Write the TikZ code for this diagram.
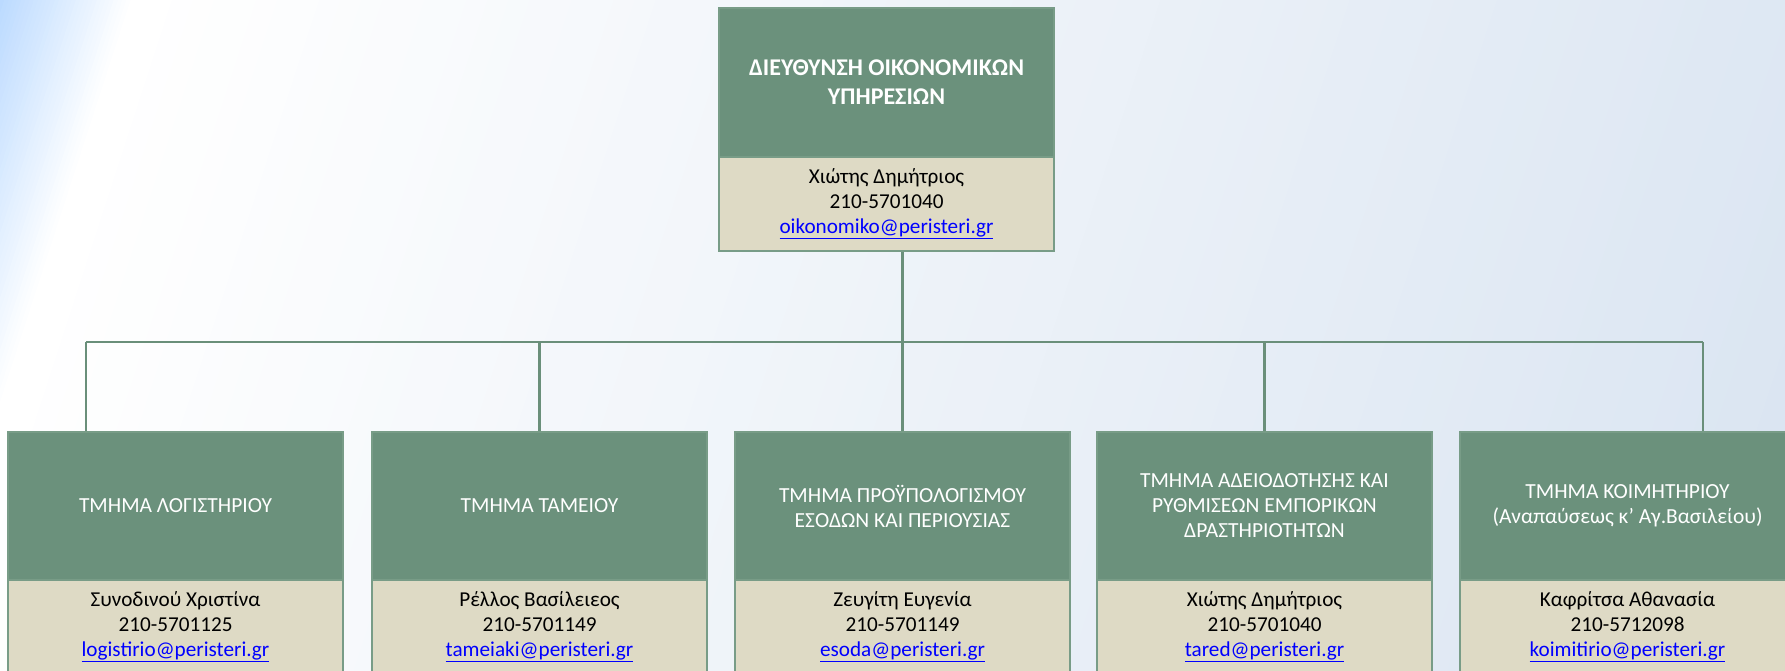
\documentclass[tikz,border=0pt]{standalone}
\usepackage{fontspec}
\setmainfont{Carlito}
\definecolor{boxgreen}{HTML}{6B917C}
\definecolor{boxborder}{HTML}{789C87}
\definecolor{infotan}{HTML}{DEDAC5}
\definecolor{linegreen}{HTML}{6A8F7A}
\definecolor{bgblue}{HTML}{BBDAFF}
\definecolor{bggray}{HTML}{D9E4F1}
\definecolor{linkblue}{HTML}{0000FF}
\newcommand{\mail}[1]{{\color{linkblue}\underline{#1}}}
\tikzset{
  head/.style={draw=boxborder, line width=2.2pt, fill=boxgreen, minimum width=335pt,
    minimum height=148pt, text=white, align=center, inner sep=0pt,
    font=\fontsize{21.5}{25}\selectfont},
  tophead/.style={head, minimum height=149pt, font=\fontsize{24}{29}\selectfont\bfseries},
  info/.style={draw=boxborder, line width=2.2pt, fill=infotan, minimum width=335pt,
    minimum height=94pt, text=black, align=center, inner sep=0pt,
    font=\fontsize{21.2}{25}\selectfont},
  conn/.style={draw=linegreen, line width=2.5pt}
}
\begin{document}
\begin{tikzpicture}[x=1pt,y=-1pt]
\useasboundingbox (0,0) rectangle (1785,670);
\clip (0,0) rectangle (1785,670);
% background
\fill[bggray] (0,0) rectangle (1785,670);
\foreach \i in {0,...,30}{
  \pgfmathsetmacro{\sa}{\i*4}
  \pgfmathsetmacro{\sb}{\i*4+5}
  \pgfmathtruncatemacro{\p}{100-\i*100/31}
  \fill[bgblue!\p!white] ({(\sa+15.45)/0.951},-50) -- ({(\sa-247.2)/0.951},800) -- ({(\sb-247.2)/0.951},800) -- ({(\sb+15.45)/0.951},-50) -- cycle;
}
\foreach \i in {0,...,89}{
  \pgfmathsetmacro{\sa}{124+\i*20}
  \pgfmathsetmacro{\sb}{124+\i*20+21}
  \pgfmathtruncatemacro{\p}{\i*100/89}
  \fill[bggray!\p!white] ({(\sa+15.45)/0.951},-50) -- ({(\sa-247.2)/0.951},800) -- ({(\sb-247.2)/0.951},800) -- ({(\sb+15.45)/0.951},-50) -- cycle;
}
% top box
\node[tophead] (top) at (886.5,82.5) {ΔΙΕΥΘΥΝΣΗ ΟΙΚΟΝΟΜΙΚΩΝ\\ΥΠΗΡΕΣΙΩΝ};
\node[info] (topinfo) at (886.5,204) {Χιώτης Δημήτριος\\210-5701040\\\mail{oikonomiko@peristeri.gr}};
% departments
\node[head] (d1) at (175.5,506) {ΤΜΗΜΑ ΛΟΓΙΣΤΗΡΙΟΥ};
\node[info] (i1) at (175.5,627) {Συνοδινού Χριστίνα\\210-5701125\\\mail{logistirio@peristeri.gr}};
\node[head] (d2) at (539.5,506) {ΤΜΗΜΑ ΤΑΜΕΙΟΥ};
\node[info] (i2) at (539.5,627) {Ρέλλος Βασίλειεος\\210-5701149\\\mail{tameiaki@peristeri.gr}};
\node[head] (d3) at (902.5,506) {ΤΜΗΜΑ ΠΡΟΫΠΟΛΟΓΙΣΜΟΥ\\ΕΣΟΔΩΝ ΚΑΙ ΠΕΡΙΟΥΣΙΑΣ};
\node[info] (i3) at (902.5,627) {Ζευγίτη Ευγενία\\210-5701149\\\mail{esoda@peristeri.gr}};
\node[head] (d4) at (1264.5,506) {ΤΜΗΜΑ ΑΔΕΙΟΔΟΤΗΣΗΣ ΚΑΙ\\ΡΥΘΜΙΣΕΩΝ ΕΜΠΟΡΙΚΩΝ\\ΔΡΑΣΤΗΡΙΟΤΗΤΩΝ};
\node[info] (i4) at (1264.5,627) {Χιώτης Δημήτριος\\210-5701040\\\mail{tared@peristeri.gr}};
\node[head] (d5) at (1627.5,506) {ΤΜΗΜΑ ΚΟΙΜΗΤΗΡΙΟΥ\\(Αναπαύσεως κ’ Αγ.Βασιλείου)};
\node[info] (i5) at (1627.5,627) {Καφρίτσα Αθανασία\\210-5712098\\\mail{koimitirio@peristeri.gr}};
% connectors
\coordinate (busL) at (86,342);
\coordinate (busR) at (1703,342);
\draw[conn] (d3.north |- topinfo.south) -- (d3.north |- busL);
\draw[conn] (busL) -- (busR);
\draw[conn] (busL) -- (busL |- d1.north);
\draw[conn] (d2.north |- busL) -- (d2.north);
\draw[conn] (d3.north |- busL) -- (d3.north);
\draw[conn] (d4.north |- busL) -- (d4.north);
\draw[conn] (busR) -- (busR |- d5.north);
\end{tikzpicture}
\end{document}
